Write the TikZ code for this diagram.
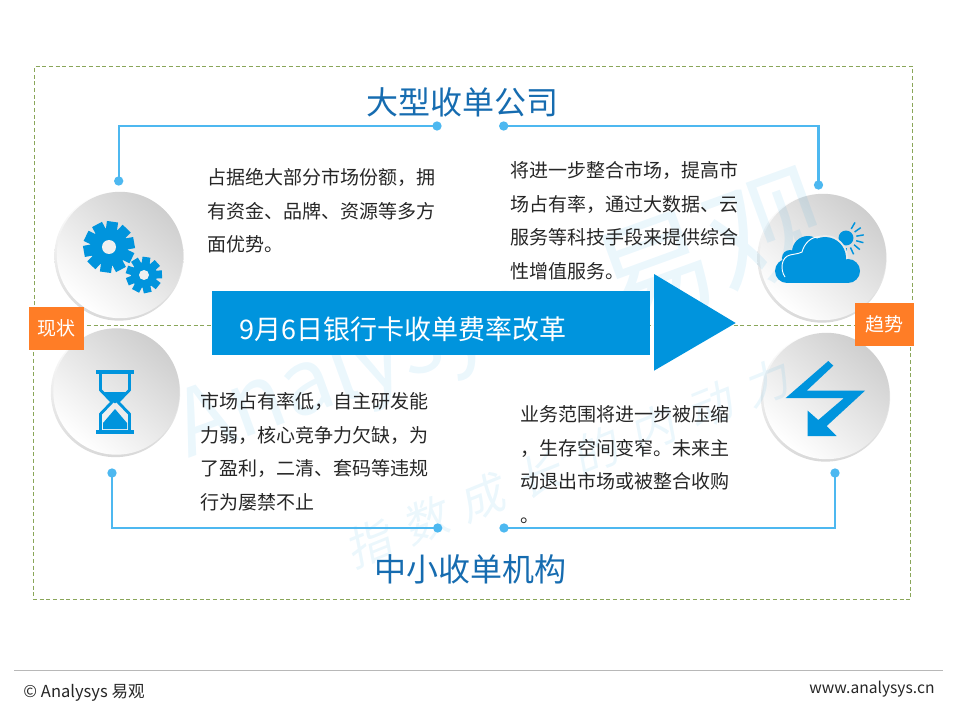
\documentclass[tikz,border=0pt]{standalone}
\usepackage{fontspec}
\setmainfont{Noto Sans CJK SC}
\usetikzlibrary{positioning}

\definecolor{iconblue}{RGB}{0,148,221}
\definecolor{titleblue}{RGB}{22,108,176}
\definecolor{linkblue}{RGB}{77,184,240}
\definecolor{tagorange}{RGB}{255,125,38}
\definecolor{boxgreen}{RGB}{138,166,90}

\tikzset{every picture/.style={line width=0.75pt}}
\tikzset{
	boxline/.style={draw=boxgreen,dash pattern=on 3pt off 2pt,line width=0.6pt},
	linkline/.style={draw=linkblue,line width=1.6pt},
	linkdot/.style={circle,fill=linkblue,inner sep=0pt,minimum size=7pt},
	discrim/.style={top color=white,bottom color=black!15},
	discface/.style={top color=black!19,bottom color=white,shading angle=-40},
	watermark/.style={text=iconblue,opacity=0.08,inner sep=0pt},
	bodytext/.style={anchor=north west,inner sep=0pt,align=left,text=black!85,font=\fontsize{14.25}{25.2}\selectfont},
	headtext/.style={inner sep=0pt,text=titleblue,font=\fontsize{24}{28}\selectfont},
	tagbox/.style={fill=tagorange,text=white,inner sep=0pt,font=\fontsize{14.25}{17}\selectfont},
	foottext/.style={inner sep=0pt,text=black!85}
}
\newcommand{\drawgear}[6]{% x, y, tip radius, body radius, hole radius, teeth
	\foreach \a in {1,...,#6}{
		\fill [iconblue, rotate around={\a*360/#6+8:(#1,#2)}] (#1-#3*0.22,#2) rectangle (#1+#3*0.22,#2-#3);
	}
	\fill [iconblue] (#1,#2) circle (#4*0.75pt);
	\fill [white!94!black] (#1,#2) circle (#5*0.75pt);
}

\begin{document}
\begin{tikzpicture}[x=0.75pt,y=0.75pt,yscale=-1,xscale=1]
		\useasboundingbox (0,0) rectangle (960,720);

		% Frame corners
		\coordinate (frameA) at (34.5,325.5);
		\coordinate (frameB) at (34.5,66.5);
		\coordinate (frameC) at (912.5,66.5);
		\coordinate (frameD) at (912.5,325.5);
		\coordinate (frameE) at (33.5,325.5);
		\coordinate (frameF) at (33.5,599.5);
		\coordinate (frameG) at (910.5,599.5);
		\coordinate (frameH) at (910.5,325.5);

		%Shape: Dashed frames
		\draw [boxline] (frameA) -- (frameB) -- (frameC) -- (frameD);
		\draw [boxline] (frameE) -- (frameD);
		\draw [boxline] (frameE) -- (frameF) -- (frameG) -- (frameH);

		%Shape: Circle discs
		\foreach \cx/\cy in {119/256,822/258,115.5/392.5,825.5/397}{
			\shade [discrim] (\cx,\cy) circle (48.5pt);
			\shade [discface] (\cx+1,\cy-1) circle (47.4pt);
		}

		% Watermark
		\node (markname) [watermark,rotate=20,font=\fontsize{68}{72}\selectfont] at (352,372) {Analysys};
		\node (markcn) [watermark,rotate=20,font=\fontsize{90}{94}\selectfont] at (712,252) {易观};
		\node (markline) [watermark,rotate=22,xslant=0.2,font=\fontsize{34}{40}\selectfont] at (570,462) {指\kern12pt数\kern12pt成\kern12pt长\kern12pt的\kern12pt内\kern12pt动\kern12pt力};

		%Shape: Gears
		\drawgear{109}{247}{25.5}{19}{7}{10}
		\drawgear{144}{275}{18}{13}{5}{9}

		%Shape: Sun and cloud
		\foreach \a in {-60,-35,-10,15,40,65,90,115,140}{
			\draw [iconblue,line width=1.1pt] (846,238)+(\a:10.5) -- +(\a:18);
		}
		\fill [iconblue] (846,238) circle (5.6pt);
		\fill [white!92!black] (825,258) circle (17.2pt);
		\fill [iconblue] (787,271) circle (9pt);
		\fill [iconblue] (790,258) circle (6pt);
		\fill [iconblue] (808,252) circle (12pt);
		\fill [iconblue] (825,258) circle (15.75pt);
		\fill [iconblue] (848,271) circle (9pt);
		\fill [iconblue] (787,262) rectangle (848,283);
		\draw [white,line width=0.7pt] (785,277) .. controls (780,270) and (781,257) .. (790,255) .. controls (794,254) and (798,254) .. (802,252) .. controls (804,244) and (811,236) .. (820,237);

		%Shape: Hourglass
		\fill [iconblue] (96,370) rectangle (134,374.3);
		\fill [iconblue] (96,430) rectangle (134,434);
		\draw [iconblue,line width=2.1pt] (100.5,374) -- (100.5,390) -- (112,402) -- (100.5,414) -- (100.5,430);
		\draw [iconblue,line width=2.1pt] (129.5,374) -- (129.5,390) -- (118,402) -- (129.5,414) -- (129.5,430);
		\fill [iconblue] (104,392) -- (126,392) -- (116,403) -- (114,403) -- cycle;
		\fill [iconblue] (115,409) -- (127,423) -- (127,429) -- (103,429) -- (103,423) -- cycle;

		%Shape: Bent arrow
		\fill [iconblue] (828.3,361) -- (833.3,365.7) -- (806.7,390.7) -- (865,390.7) -- (826.7,426) -- (836.7,436) -- (807.7,436) -- (807.7,410.7) -- (818.3,420) -- (844,398) -- (785.7,398) -- cycle;

		% Connector ends
		\node (dotA) [linkdot] at (118.7,181) {};
		\node (dotB) [linkdot] at (437,126) {};
		\node (dotC) [linkdot] at (503.7,126) {};
		\node (dotD) [linkdot] at (818.5,185) {};
		\node (dotE) [linkdot] at (112,473) {};
		\node (dotF) [linkdot] at (437.7,528) {};
		\node (dotG) [linkdot] at (504,528) {};
		\node (dotH) [linkdot] at (835,473) {};

		%Straight Lines
		\draw [linkline] (dotA.center) |- (dotB.center);
		\draw [linkline] (dotC.center) -| (dotD.center);
		\draw [linkline] (dotE.center) |- (dotF.center);
		\draw [linkline] (dotG.center) -| (dotH.center);

		%Shape: Central bar and triangle
		\node (barbox) [anchor=north west,fill=iconblue,inner sep=0pt,minimum width=328.5pt,minimum height=47.25pt] at (211,291) {};
		\fill [iconblue] (654,274) -- (735.7,323) -- (654,370.7) -- cycle;

		% Text Node
		\node (bartext) [anchor=west,inner sep=0pt,text=white,font=\fontsize{20.25}{24}\selectfont] at (239,329) {9月6日银行卡收单费率改革};
		% Text Node
		\node (headtop) [headtext] at (462,102) {大型收单公司};
		% Text Node
		\node (headlow) [headtext] at (470.5,569) {中小收单机构};
		% Text Node
		\node (textA) [bodytext] at (207,168) {占据绝大部分市场份额，拥\\有资金、品牌、资源等多方\\面优势。};
		% Text Node
		\node (textB) [bodytext] at (510,161) {将进一步整合市场，提高市\\场占有率，通过大数据、云\\服务等科技手段来提供综合\\性增值服务。};
		% Text Node
		\node (textC) [bodytext] at (200,392) {市场占有率低，自主研发能\\力弱，核心竞争力欠缺，为\\了盈利，二清、套码等违规\\行为屡禁不止};
		% Text Node
		\node (textD) [bodytext] at (520,405) {业务范围将进一步被压缩\\，生存空间变窄。未来主\\动退出市场或被整合收购\\。};

		% Tags
		\node (tagnow) [tagbox,minimum width=41.25pt,minimum height=32.25pt] at (56.5,328.5) {现状};
		\node (tagnext) [tagbox,minimum width=44.25pt,minimum height=32.25pt] at (884.5,324.5) {趋势};

		% Footer
		\coordinate (ruleL) at (14,670.5);
		\coordinate (ruleR) at (943,670.5);
		\draw [black!28,line width=0.75pt] (ruleL) -- (ruleR);
		\node (footleft) [foottext,anchor=west,font=\fontsize{12.4}{14}\selectfont] at (23,693) {© Analysys 易观};
		\node (footright) [foottext,anchor=east,font=\fontsize{11.7}{14}\selectfont] at (935,689) {www.analysys.cn};
\end{tikzpicture}
\end{document}
